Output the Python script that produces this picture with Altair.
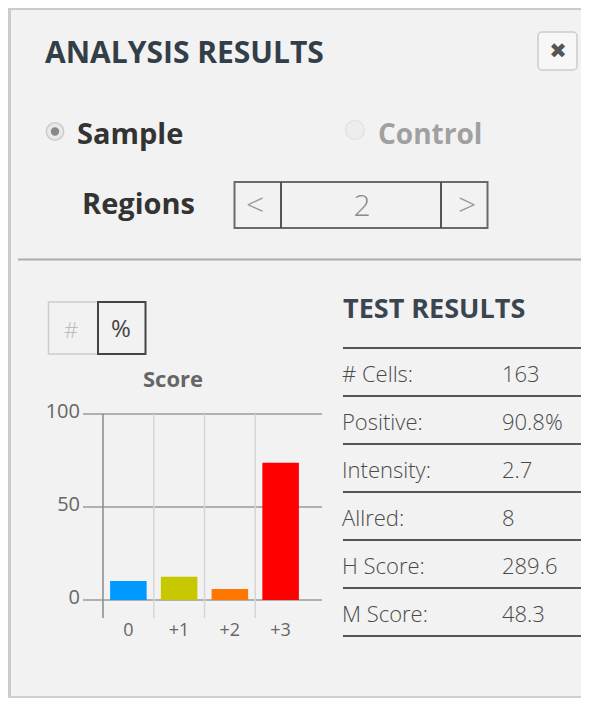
import altair as alt
import pandas as pd

# ---- data ----
categories = ["0", "+1", "+2", "+3"]
percents = [10.2, 12.5, 5.9, 73.8]
bar_colors = ["#0099ff", "#c8c800", "#ff7700", "#ff0000"]
y_ticks = [0, 50, 100]

rows = ["# Cells:", "Positive:", "Intensity:", "Allred:", "H Score:", "M Score:"]
row_values = ["163", "90.8%", "2.7", "8", "289.6", "48.3"]

FONT = "Open Sans"

bars_df = pd.DataFrame({"cat": categories, "pct": percents})
ticks_df = pd.DataFrame({"v": y_ticks})
table_df = pd.DataFrame({"row": rows, "val": row_values})

xscale = alt.Scale(type="band", domain=categories, range=[95, 298], paddingInner=0, paddingOuter=0)
yscale = alt.Scale(type="linear", domain=[0, 100], range=[592, 406], nice=False, zero=True)
rscale = alt.Scale(type="band", domain=rows, range=[340, 628], paddingInner=0, paddingOuter=0)


def one():
    return alt.Data(values=[{"k": 0}])


def label(text, x, y, size, color, weight="normal", align="left", baseline="alphabetic", font=FONT):
    return alt.Chart(one()).mark_text(
        text=text, fontSize=size, color=color, fontWeight=weight,
        align=align, baseline=baseline, font=font,
    ).encode(x=alt.value(x), y=alt.value(y))


def box(x, x2, y, y2, stroke, sw=1.5, fill="transparent", radius=0):
    return alt.Chart(one()).mark_rect(
        stroke=stroke, strokeWidth=sw, fill=fill, cornerRadius=radius
    ).encode(x=alt.value(x), x2=alt.value(x2), y=alt.value(y), y2=alt.value(y2))


def hline(x, x2, y, color, sw=2):
    return alt.Chart(one()).mark_rule(color=color, strokeWidth=sw).encode(
        x=alt.value(x), x2=alt.value(x2), y=alt.value(y))


def vline(x, y, y2, color, sw=2):
    return alt.Chart(one()).mark_rule(color=color, strokeWidth=sw).encode(
        x=alt.value(x), y=alt.value(y), y2=alt.value(y2))


layers = []

# panel (fill only, borders drawn separately so no right edge shows)
layers.append(alt.Chart(one()).mark_rect(fill="#f2f2f2", strokeWidth=0).encode(
    x=alt.value(2), x2=alt.value(573), y=alt.value(1), y2=alt.value(689)))
layers.append(vline(1.5, 0, 690, "#cbcbcb", 3))
layers.append(hline(0, 573, 0.5, "#cbcbcb", 3))
layers.append(hline(0, 573, 689, "#cfcfcf", 2))

# header
layers.append(label("ANALYSIS RESULTS", 37, 55, 30, "#333e48", "bold"))
layers.append(box(530, 569, 24, 62, "#cccccc", 1.5, "#f7f7f7", 4))
layers.append(label("\u2716", 550, 44, 21, "#555555", "normal", "center", "middle", "DejaVu Sans"))

# radio buttons
layers.append(alt.Chart(one()).mark_point(shape="circle", filled=True, fill="#e6e6e6",
                                          stroke="#bdbdbd", strokeWidth=1.5, size=300)
              .encode(x=alt.value(47), y=alt.value(123.5)))
layers.append(alt.Chart(one()).mark_point(shape="circle", filled=True, fill="#5e5e5e",
                                          size=70, strokeWidth=0)
              .encode(x=alt.value(47), y=alt.value(123.5)))
layers.append(label("Sample", 69, 136, 29, "#333333", "bold"))

layers.append(alt.Chart(one()).mark_point(shape="circle", filled=True, fill="#ececec",
                                          stroke="#dedede", strokeWidth=1.5, size=360)
              .encode(x=alt.value(347), y=alt.value(122)))
layers.append(label("Control", 370, 136, 28, "#a0a0a0", "bold"))

# regions stepper
layers.append(label("Regions", 74, 206, 29, "#333333", "bold"))
layers.append(box(226.5, 479.5, 174, 220, "#6a6a6a", 2))
layers.append(vline(273, 174, 220, "#555555", 2))
layers.append(vline(433, 174, 220, "#555555", 2))
layers.append(label("<", 247, 198, 32, "#9a9a9a", 300, "center", "middle"))
layers.append(label("2", 354, 199, 30, "#8a8a8a", 300, "center", "middle"))
layers.append(label(">", 459, 198, 32, "#9a9a9a", 300, "center", "middle"))

# separator
layers.append(hline(10, 575, 251.5, "#ababab", 2))

# # / % toggle
layers.append(box(40.5, 90, 294, 346, "#cccccc", 1.5))
layers.append(box(90, 137.5, 294, 346, "#444444", 2))
layers.append(label("#", 63, 323, 22, "#bbbbbb", 300, "center", "middle"))
layers.append(label("%", 113, 322, 24, "#444444", "normal", "center", "middle"))

# chart title
layers.append(label("Score", 165, 379, 22, "#666666", "bold", "center"))

# horizontal gridlines
layers.append(alt.Chart(ticks_df).mark_rule(color="#9a9a9a", strokeWidth=1.5).encode(
    y=alt.Y("v:Q", scale=yscale, axis=None), x=alt.value(75), x2=alt.value(314)))
# y labels
layers.append(alt.Chart(ticks_df).mark_text(align="right", baseline="alphabetic", dy=4,
                                            fontSize=20, color="#666666", font=FONT).encode(
    y=alt.Y("v:Q", scale=yscale, axis=None), x=alt.value(72), text="v:Q"))

# vertical category separators
layers.append(alt.Chart(bars_df).mark_rule(strokeWidth=1.5).encode(
    x=alt.X("cat:N", scale=xscale, axis=None, bandPosition=0, sort=categories),
    y=alt.value(406), y2=alt.value(610),
    color=alt.condition(alt.datum.cat == categories[0], alt.value("#8a8a8a"), alt.value("#d6d6d6"))))

# bars
layers.append(alt.Chart(bars_df).mark_bar(width=alt.RelativeBandSize(0.72)).encode(
    x=alt.X("cat:N", scale=xscale, axis=None, sort=categories),
    y=alt.Y("pct:Q", scale=yscale, axis=None),
    color=alt.Color("cat:N", scale=alt.Scale(domain=categories, range=bar_colors), legend=None)))

# x labels
layers.append(alt.Chart(bars_df).mark_text(baseline="alphabetic", fontSize=18, color="#666666",
                                           font=FONT).encode(
    x=alt.X("cat:N", scale=xscale, axis=None, bandPosition=0.5, sort=categories),
    y=alt.value(628), text="cat:N"))

# test results table
layers.append(label("TEST RESULTS", 335, 310, 27, "#3a4550", "bold"))
layers.append(alt.Chart(table_df).transform_filter(alt.datum.row == rows[0]).mark_rule(
    color="#555555", strokeWidth=2).encode(
    y=alt.Y("row:N", scale=rscale, axis=None, bandPosition=0, sort=rows),
    x=alt.value(335), x2=alt.value(573)))
layers.append(alt.Chart(table_df).mark_rule(color="#555555", strokeWidth=2).encode(
    y=alt.Y("row:N", scale=rscale, axis=None, bandPosition=1, sort=rows),
    x=alt.value(335), x2=alt.value(573)))
layers.append(alt.Chart(table_df).mark_text(align="left", baseline="middle", dy=3, fontSize=22,
                                            fontWeight=300, color="#4a4a4a", font=FONT).encode(
    y=alt.Y("row:N", scale=rscale, axis=None, bandPosition=0.5, sort=rows),
    x=alt.value(334), text="row:N"))
layers.append(alt.Chart(table_df).mark_text(align="left", baseline="middle", dy=3, fontSize=22,
                                            fontWeight=300, color="#4a4a4a", font=FONT).encode(
    y=alt.Y("row:N", scale=rscale, axis=None, bandPosition=0.5, sort=rows),
    x=alt.value(494), text="val:N"))

chart = alt.layer(*layers).resolve_scale(
    x="independent", y="independent", color="independent"
).properties(
    width=573, height=695, padding=0, autosize="none", background="#ffffff"
).configure_view(strokeWidth=0, stroke="transparent")

chart.save("out.html", embed_options={"renderer": "svg", "actions": False})
